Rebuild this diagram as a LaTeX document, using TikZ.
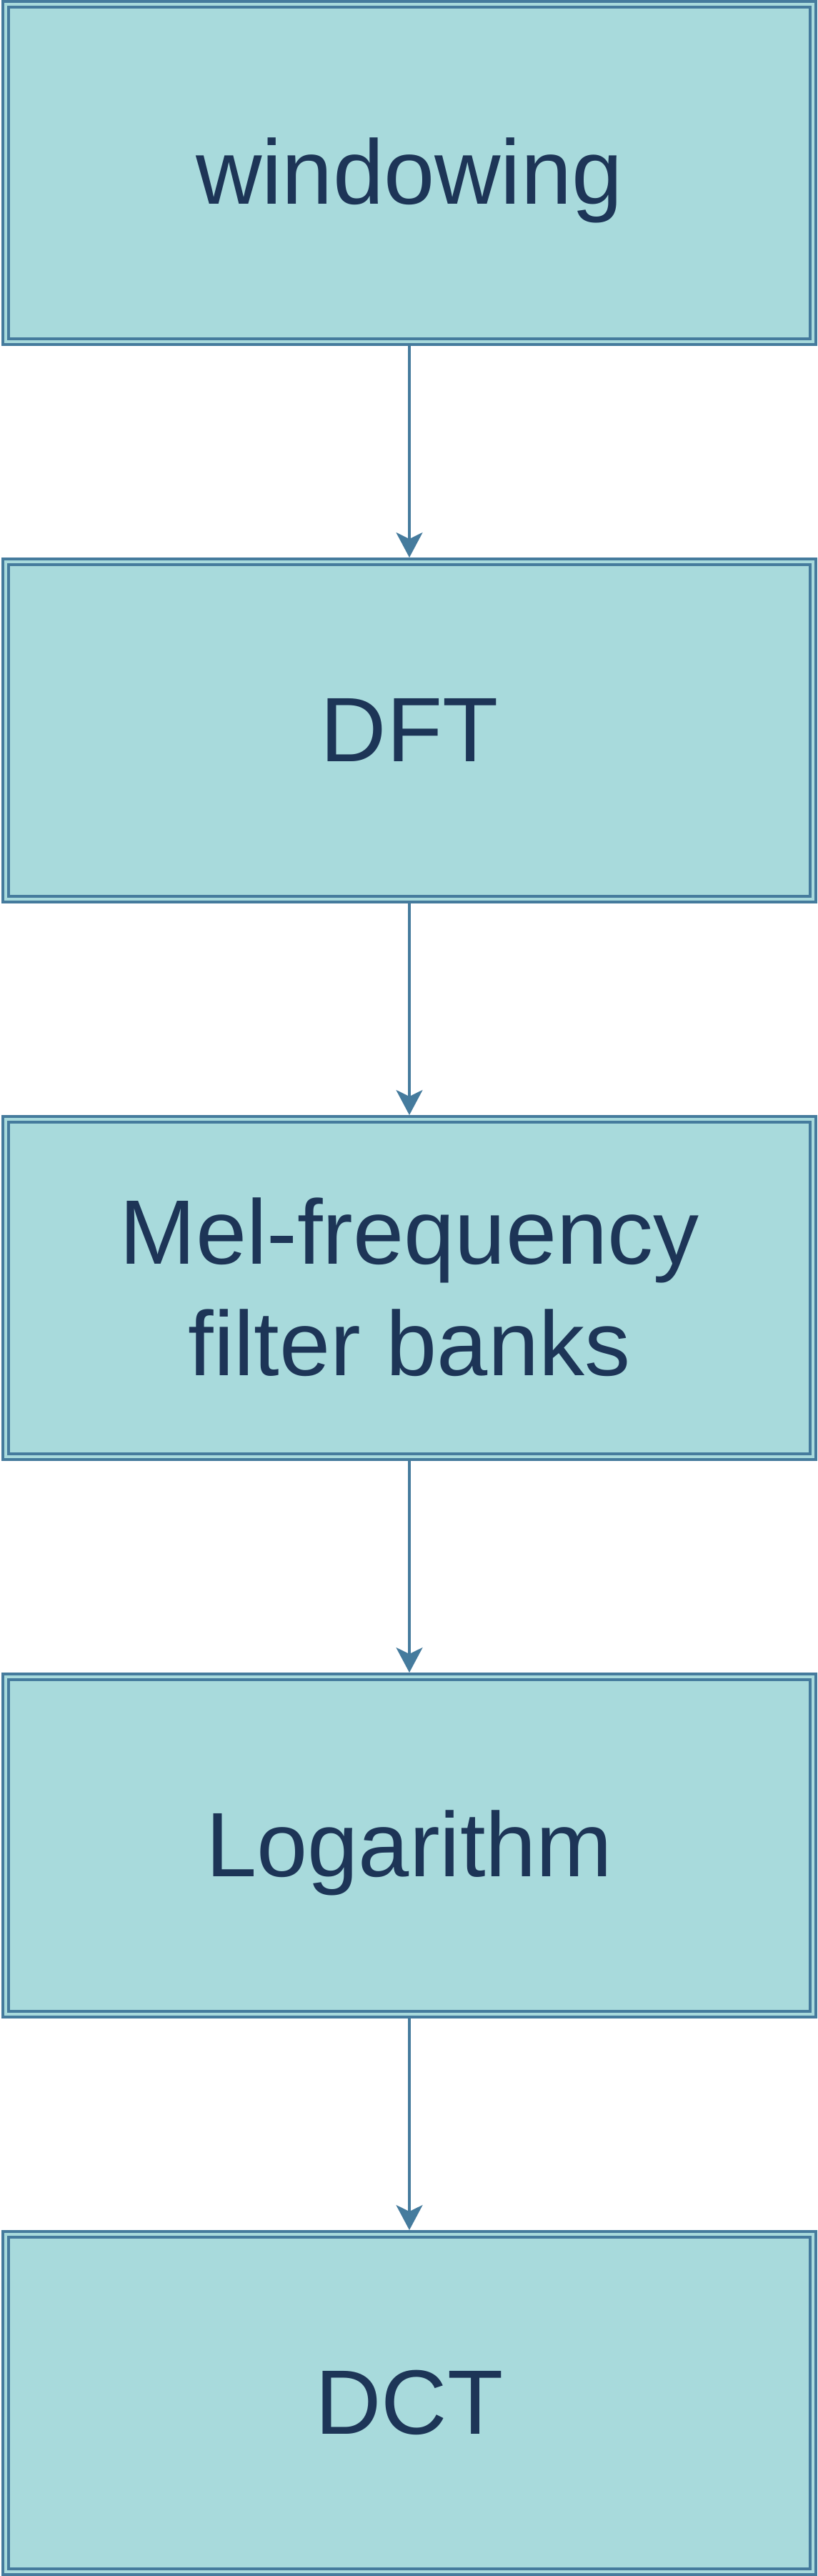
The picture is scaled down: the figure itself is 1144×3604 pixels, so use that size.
\documentclass[tikz,border=0pt]{standalone}
\usepackage{fontspec}
\setmainfont{Liberation Sans}
\usetikzlibrary{arrows.meta}
\definecolor{boxfill}{HTML}{A8DADC}
\definecolor{boxline}{HTML}{457B9D}
\definecolor{boxtext}{HTML}{1D3557}
\begin{document}
\begin{tikzpicture}[x=1pt,y=1pt,
  stage/.style={draw=boxline, double=boxfill, double distance=4pt, line width=4pt,
    fill=boxfill, minimum width=1130pt, minimum height=472pt, inner sep=0pt,
    outer sep=6pt, text=boxtext, font=\fontsize{128}{156}\selectfont,
    text height=92pt, text depth=5pt},
  flow/.style={draw=boxline, line width=3.5pt,
    -{Stealth[length=35pt,width=37pt,inset=9pt]}}]
\useasboundingbox (0,0) rectangle (1144,-3604);
\node[stage] (win) at (573,-242) {windowing};
\node[stage] (dft) at (573,-1022) {DFT};
\node[stage, text depth=160pt] (mel) at (573,-1802)
  {\begin{tabular}[t]{@{}c@{}}Mel-frequency\\filter banks\end{tabular}};
\node[stage] (log) at (573,-2582) {Logarithm};
\node[stage] (dct) at (573,-3362) {DCT};
\draw[flow] (win) -- (dft);
\draw[flow] (dft) -- (mel);
\draw[flow] (mel) -- (log);
\draw[flow] (log) -- (dct);
\end{tikzpicture}
\end{document}
